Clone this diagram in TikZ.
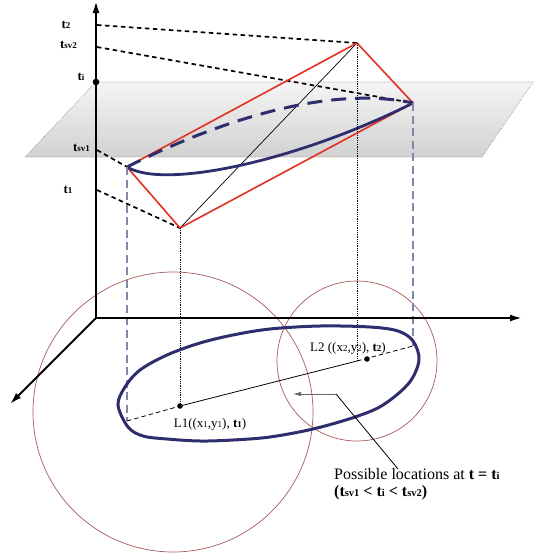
\documentclass[tikz,border=0pt]{standalone}
\usepackage{fontspec}
\setmainfont{Liberation Serif}
\usetikzlibrary{arrows.meta}
\definecolor{navyline}{HTML}{2E2D6E}
\definecolor{redline}{HTML}{E3301F}
\definecolor{paledash}{HTML}{8584AC}
\definecolor{ringcol}{HTML}{A65A5A}
\definecolor{planeedge}{HTML}{B87878}
\newcommand{\lowsub}[1]{{\fontsize{9}{10}\selectfont #1}}
\newcommand{\notesub}[1]{{\fontsize{10.5}{11}\selectfont #1}}
\newcommand{\tlab}[1]{\textbf{t\lowsub{#1}}}
\tikzset{
  axisline/.style={line width=2pt, -{Latex[length=12pt,width=7pt]}},
  timedash/.style={line width=1.7pt, dash pattern=on 4.5pt off 3.5pt},
  edgered/.style={redline, line width=1.6pt, line join=round},
  navycurve/.style={navyline, line width=2.8pt},
  dropline/.style={paledash, line width=1.2pt, dash pattern=on 8pt off 4.5pt},
  dotdrop/.style={line width=0.8pt, densely dotted},
  ring/.style={ringcol, line width=0.7pt},
  lbl/.style={inner sep=0pt, font=\fontsize{13}{15}\selectfont},
  notelbl/.style={inner sep=0pt, font=\fontsize{16}{17.5}\selectfont},
}

\begin{document}
\begin{tikzpicture}[x=1pt,y=-1pt]
\useasboundingbox (0,0) rectangle (534,557);
\coordinate (origin) at (96,318);
\coordinate (ttop) at (96,1);
\coordinate (xend) at (522,318);
\coordinate (yend) at (10,404);
\coordinate (apex) at (357,43);
\coordinate (rpt) at (413,103);
\coordinate (lpt) at (127,167);
\coordinate (bpt) at (180,228);
\coordinate (lone) at (180,406);
\coordinate (ltwo) at (367,359);
\coordinate (lmid) at (357,361);
\coordinate (lfoot) at (127,421);
\coordinate (rfoot) at (413,346);
\coordinate (atwo) at (97,25);
\coordinate (asvtwo) at (97,47);
\coordinate (ai) at (96,82);
\coordinate (asvone) at (97,150);
\coordinate (aone) at (97,190);
\coordinate (bigc) at (173,412);
\coordinate (atip) at (293,394);
\coordinate (elbow) at (336,394);
\coordinate (notefoot) at (398,469);

\shade[top color=gray!8, bottom color=gray!36, draw=planeedge, densely dotted, line width=0.6pt]
  (ai) -- (533,82) -- (482,157) -- (25,157) -- cycle;

\draw[ring] (bigc) circle[radius=140];
\draw[ring] (lmid) circle[radius=80];

\draw[timedash] (atwo) -- (apex);
\draw[timedash] (asvtwo) -- (rpt);
\draw[timedash] (asvone) -- (lpt);
\draw[timedash] (aone) -- (bpt);

\draw[line width=0.7pt] (bpt) -- (apex);
\draw[edgered] (lpt) -- (apex) -- (rpt) -- (bpt) -- cycle;

\draw[navycurve] (lpt) .. controls (165,190) and (300,160) .. (rpt);
\draw[navycurve, line width=3pt, dash pattern=on 15pt off 9pt] (lpt) .. controls (220,120) and (330,85) .. (rpt);

\draw[dotdrop] (bpt) -- (lone);
\draw[dotdrop] (apex) -- (lmid);
\draw[dropline] (lpt) -- (lfoot);
\draw[dropline] (rpt) -- (rfoot);

\draw[line width=0.8pt, dash pattern=on 4.5pt off 3pt] (lfoot) -- (lone);
\draw[line width=0.8pt] (lone) -- (lmid);
\draw[line width=0.8pt, dash pattern=on 4.5pt off 3pt] (lmid) -- (rfoot);

\draw[navycurve, line width=3pt] plot[smooth cycle, tension=0.55] coordinates {
  (118,405) (125,387) (140,370) (167,355) (200,343) (233,335) (270,329)
  (320,326) (370,327) (398,331) (413,341) (419,360) (409,383) (383,405)
  (355,417) (313,429) (270,437) (233,440) (200,441) (167,439) (143,436)
  (128,427)};

\draw[axisline] (origin) -- (ttop);
\draw[axisline] (origin) -- (xend);
\draw[axisline] (origin) -- (yend);

\fill (ai) circle[radius=3.3];
\fill (lone) circle[radius=2.8];
\fill (ltwo) circle[radius=2.8];

\node[lbl] (ttwo) at (66,25) {\tlab{2}};
\node[lbl] (tsvtwo) at (68.5,45) {\tlab{sv2}};
\node[lbl] (tilab) at (81,77) {\tlab{i}};
\node[lbl] (tsvone) at (81.5,148) {\tlab{sv1}};
\node[lbl] (tone) at (68,190) {\tlab{1}};

\node[lbl] (ltwolab) at (348,348) {L2 ((x\lowsub{2},y\lowsub{2}), \tlab{2})};
\node[lbl] (lonelab) at (210,424) {L1((x\lowsub{1},y\lowsub{1}), \tlab{1})};
\node[notelbl, anchor=north west, align=left] (note) at (334,468)
  {Possible locations at \textbf{t = t\notesub{i}}\\
   \textbf{(t\notesub{sv1} < t\notesub{i} < t\notesub{sv2})}};

\draw[black!60, line width=0.9pt, -{Latex[length=8pt,width=4.5pt]}] (elbow) -- (atip);
\draw[line width=0.8pt] (elbow) -- (notefoot);
\end{tikzpicture}
\end{document}
